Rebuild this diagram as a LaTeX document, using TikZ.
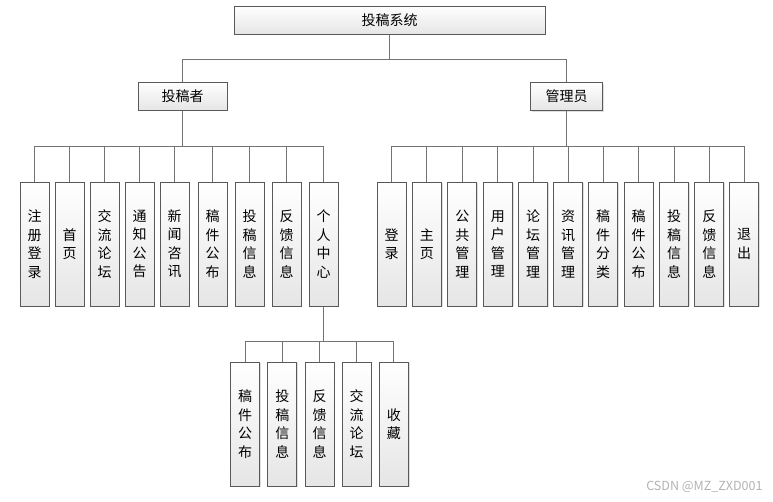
\documentclass[tikz,border=0pt]{standalone}
\usepackage{fontspec}
\newfontfamily\cjk{Noto Sans CJK SC}
\usetikzlibrary{shadows}
\tikzset{
    kuang/.style = {draw=black!65, line width=1pt, top color=white, bottom color=black!10,
                    font=\cjk\fontsize{14}{18.5}\selectfont, align=center, inner sep=0pt,
                    drop shadow={shadow xshift=1.2pt, shadow yshift=-1.2pt, opacity=0.25}},
    shu/.style   = {kuang, minimum width=29pt, minimum height=124pt},
    heng/.style  = {kuang, minimum height=28pt},
    lig/.style   = {draw=black!55, line width=1pt},
    shuiyin/.style = {font=\cjk\fontsize{12.5}{12.5}\selectfont, text=black!30},
}

\begin{document}
\begin{tikzpicture}[x=1pt, y=-1pt]
    \useasboundingbox (0,0) rectangle (773,501);
    \node[heng, minimum width=311pt] (xt) at (389.5,20) {投稿系统};
    \node[heng, minimum width=89pt] (tgz) at (182.5,96) {投稿者};
    \node[heng, minimum width=72pt] (gly) at (566.7,96.5) {管理员};
    \draw[lig] (xt.south) -- ++(0,25) -| (tgz.north);
    \draw[lig] (xt.south) -- ++(0,25) -| (gly.north);
    % 投稿者
    \foreach \x/\t [count=\i] in {34.5/注\\册\\登\\录, 69.5/首\\页, 104.5/交\\流\\论\\坛,
        139.5/通\\知\\公\\告, 174.5/新\\闻\\咨\\讯, 212.5/稿\\件\\公\\布,
        249.5/投\\稿\\信\\息, 286.5/反\\馈\\信\\息, 323.5/个\\人\\中\\心}
    {
        \node[shu] (t\i) at (\x,244) {\t};
        \draw[lig] (tgz.south) -- ++(0,36) -| (t\i.north);
    }
    % 个人中心
    \foreach \x/\t [count=\i] in {245.2/稿\\件\\公\\布, 282.3/投\\稿\\信\\息,
        319.7/反\\馈\\信\\息, 356.7/交\\流\\论\\坛, 393.8/收\\藏}
    {
        \node[shu] (g\i) at (\x,424) {\t};
        \draw[lig] (t9.south) -- ++(0,34.7) -| (g\i.north);
    }
    % 管理员
    \foreach \x/\t [count=\i] in {391.7/登\\录, 426.8/主\\页, 462.3/公\\共\\管\\理,
        497.8/用\\户\\管\\理, 533/论\\坛\\管\\理, 568/资\\讯\\管\\理,
        603.2/稿\\件\\分\\类, 638.7/稿\\件\\公\\布, 674/投\\稿\\信\\息,
        709.3/反\\馈\\信\\息, 744/退\\出}
    {
        \node[shu] (m\i) at (\x,244) {\t};
        \draw[lig] (gly.south) -- ++(0,35.3) -| (m\i.north);
    }
    \node[shuiyin, anchor=east] (sy) at (766,487) {CSDN @MZ\_ZXD001};
\end{tikzpicture}
\end{document}
